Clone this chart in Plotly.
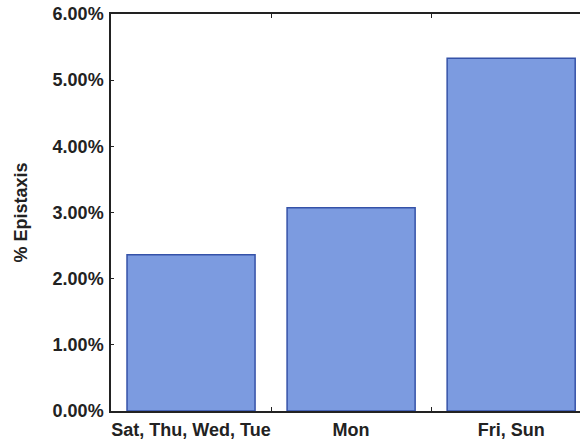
import plotly.graph_objects as go

categories = ["Sat, Thu, Wed, Tue", "Mon", "Fri, Sun"]
values = [2.36, 3.07, 5.33]
y_ticks = [0, 1, 2, 3, 4, 5, 6]
y_tick_labels = ["0.00%", "1.00%", "2.00%", "3.00%", "4.00%", "5.00%", "6.00%"]

font_family = "Liberation Sans, Arial, sans-serif"
text_color = "#222222"

fig = go.Figure(
    go.Bar(
        x=categories,
        y=values,
        marker=dict(color="#7c9be0", line=dict(color="#3552a8", width=1.5)),
        width=0.8,
    )
)

fig.update_layout(
    width=580,
    height=442,
    margin=dict(l=111, r=0, t=14, b=31, autoexpand=False),
    paper_bgcolor="white",
    plot_bgcolor="white",
    showlegend=False,
    font=dict(family=font_family, color=text_color),
    bargap=0.2,
)

fig.update_xaxes(
    type="category",
    range=[-0.5, 2.43],
    automargin=False,
    showline=True,
    linecolor="#222222",
    linewidth=1.5,
    mirror="ticks",
    ticks="inside",
    tickson="boundaries",
    ticklen=4,
    tickcolor="#222222",
    showgrid=False,
    tickangle=0,
    ticklabelstandoff=2,
    tickfont=dict(size=18, family=font_family, color=text_color, weight="bold"),
)

fig.update_yaxes(
    range=[0, 6],
    automargin=False,
    tickvals=y_ticks,
    ticktext=y_tick_labels,
    showline=True,
    linecolor="#222222",
    linewidth=1.5,
    ticks="inside",
    ticklen=3,
    tickcolor="#222222",
    showgrid=False,
    zeroline=False,
    ticklabelstandoff=2,
    tickfont=dict(size=18, family=font_family, color=text_color, weight="bold"),
    title=dict(
        text="% Epistaxis",
        font=dict(size=18, family=font_family, color=text_color, weight="bold"),
        standoff=20,
    ),
)

fig.write_html(
    "out.html",
    config={"displayModeBar": False},
    post_script="document.body.style.margin='0';",
)
